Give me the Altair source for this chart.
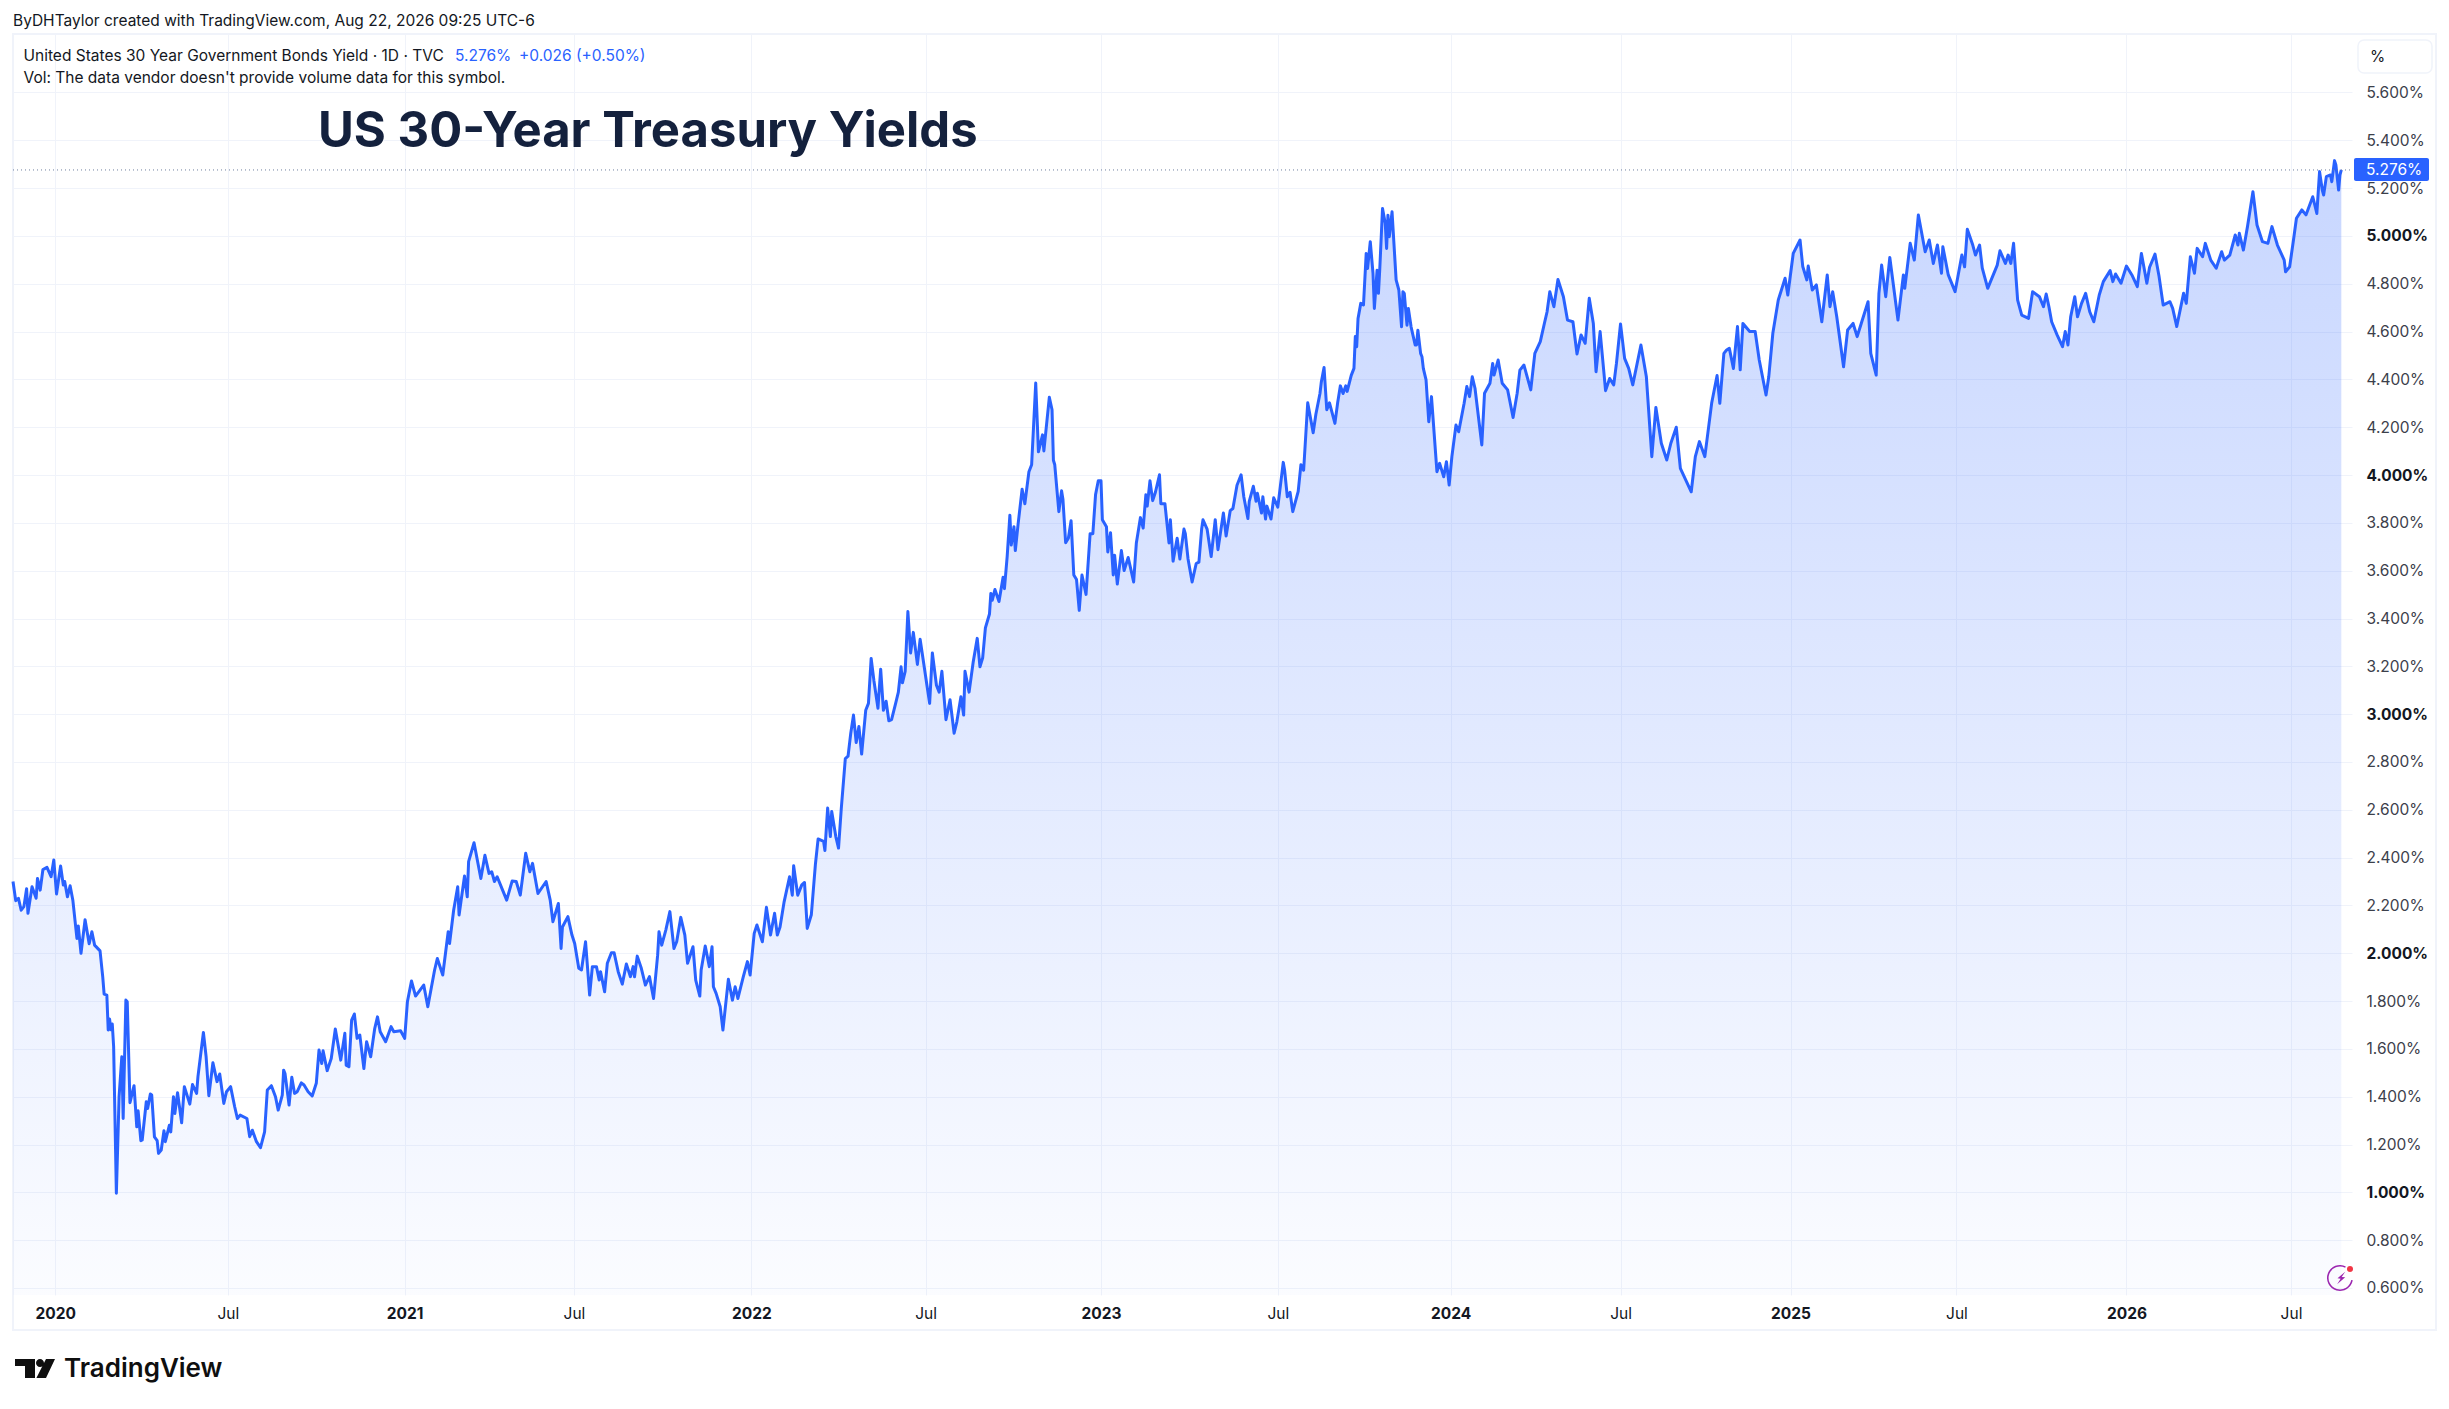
import altair as alt
import pandas as pd

# Trading-session number (bar index, as TradingView spaces its time axis) and yield in %
sessions = [
0,2,4,6,8,10,11,14,17,18,20,22,25,28,30,32,35,37,38,40,
42,44,47,48,50,53,56,58,60,64,66,67,69,70,71,72,73,74,76,78,
80,81,83,84,86,89,91,92,94,95,98,99,101,102,104,106,107,109,111,112,
115,116,118,119,121,124,126,130,132,135,136,140,142,144,147,150,152,155,157,160,
163,165,167,172,174,176,179,182,185,187,190,193,195,198,199,200,203,205,207,209,
212,214,217,220,223,225,227,228,231,234,237,241,244,245,247,249,251,253,255,258,
260,263,266,268,270,274,278,280,285,288,290,293,296,302,305,310,312,316,320,321,
324,327,328,332,334,335,339,344,347,350,352,354,356,360,363,367,370,373,377,380,
382,386,392,395,397,401,403,404,408,411,413,416,418,421,424,426,429,431,432,435,
437,440,442,445,448,451,454,456,457,459,462,465,468,471,474,475,477,480,483,486,
488,491,494,496,500,502,505,506,509,512,514,515,517,520,522,526,529,531,533,537,
540,542,545,547,551,554,557,560,562,564,567,571,573,574,577,
580,582,584,587,590,592,596,597,599,601,602,605,607,609,612,614,616,618,620,622,
624,627,629,631,633,636,638,640,642,644,646,649,651,653,654,656,658,660,662,665,
667,670,672,674,676,679,681,683,686,689,692,694,697,699,700,703,706,709,711,713,
715,718,719,720,722,725,728,729,731,733,734,736,737,739,742,744,747,749,752,754,
757,758,762,764,765,766,769,771,772,774,776,778,780,782,784,786,789,792,794,796,
798,800,801,804,805,807,809,810,812,815,817,820,824,826,829,831,833,834,836,838,
840,843,844,847,850,851,853,856,858,861,862,864,867,870,872,874,875,878,881,884,
886,890,892,895,897,900,903,905,908,909,912,914,915,918,919,921,922,925,927,930,
934,935,937,939,941,945,947,949,952,956,958,961,962,964,966,968,972,974,976,978,
980,981,984,986,987,988,989,991,993,995,996,998,1000,1001,1003,1004,1005,1007,1009,1010,
1011,1012,1014,1017,1019,1021,1022,1023,1025,1026,1028,1031,1032,1033,1035,1036,1037,1039,1041,1043,
1047,1049,1052,1054,1056,1058,1061,1063,1067,1069,1071,1073,1075,1080,1082,1086,1088,1089,1092,1095,
1099,1103,1106,1108,1111,1116,1119,1123,1126,1128,1130,1133,1136,1140,1143,1147,1150,1153,1156,1159,
1162,1164,1167,1171,1174,1177,1179,1182,1185,1188,1191,1197,1201,1205,1208,1212,1216,1219,1223,1226,
1230,1234,1237,1240,1244,1249,1253,1255,1258,1260,1262,1265,1268,1270,1272,1277,1281,1284,1289,1291,
1294,1298,1303,1305,1309,1314,1316,1319,1320,1323,1326,1330,1334,1336,1338,1341,1345,1346,1349,1353,
1356,1359,1364,1366,1370,1372,1374,1377,1380,1386,1390,1391,1395,1398,1401,1406,1409,1412,1415,1418,
1419,1423,1428,1433,1435,1437,1441,1443,1446,1448,1452,1459,1461,1465,1467,1469,1471,1474,1477,1482,
1485,1490,1493,1495,1497,1499,1503,1507,1509,1511,1513,1516,1518,1521,1524,1527,1530,1534,1537,1542,
1544,1546,1550,1554,1558,1562,1565,1569,1571,1575,1578,1581,1586,1588,1591,1596,1598,1601,1604,1606,
1610,1612,1616,1620,1624,1626,1630,1634,1636,1637,1640,1643,1647,1650,1654,1658,1661,1665,1670,1671,
1674,1677,1679,1683,1686,1691,1694,1696,1698,1699,1701,1704,1705,1707,1708,1710,1711,1712,
]
yields = [
2.30,2.22,2.23,2.18,2.195,2.27,2.167,2.278,2.23,2.313,2.264,2.35,2.359,2.32,2.39,2.248,2.365,2.285,2.30,2.236,
2.282,2.222,2.062,2.114,2.0,2.14,2.04,2.09,2.034,2.01,1.90,1.829,1.825,1.679,1.725,1.68,1.704,1.609,0.996,1.40,
1.567,1.309,1.804,1.797,1.375,1.446,1.274,1.341,1.216,1.219,1.379,1.351,1.411,1.407,1.232,1.216,1.163,1.177,1.258,1.212,
1.281,1.253,1.40,1.33,1.417,1.291,1.442,1.369,1.451,1.414,1.484,1.669,1.567,1.404,1.542,1.463,1.495,1.372,1.421,1.442,
1.358,1.309,1.323,1.309,1.233,1.26,1.212,1.187,1.253,1.428,1.446,1.40,1.344,1.407,1.511,1.497,1.365,1.481,1.414,1.421,
1.458,1.449,1.421,1.403,1.456,1.595,1.539,1.592,1.509,1.56,1.683,1.553,1.665,1.532,1.525,1.72,1.746,1.644,1.658,1.518,
1.63,1.567,1.686,1.734,1.672,1.63,1.693,1.672,1.676,1.644,1.797,1.884,1.821,1.867,1.776,1.93,1.978,1.909,2.09,2.041,
2.18,2.278,2.16,2.323,2.236,2.383,2.462,2.313,2.41,2.334,2.341,2.30,2.32,2.264,2.222,2.302,2.30,2.243,2.418,2.341,
2.376,2.25,2.30,2.222,2.132,2.208,2.02,2.11,2.153,2.076,2.041,1.937,1.93,2.048,1.825,1.944,1.944,1.888,1.923,1.839,
1.958,2.002,2.002,1.923,1.871,1.955,1.902,1.944,1.902,1.988,1.937,1.867,1.902,1.811,1.992,2.09,2.034,2.097,2.174,2.02,
2.048,2.15,2.076,1.958,2.027,1.888,1.821,1.93,2.03,1.944,2.027,1.86,1.832,1.776,1.679,1.891,1.804,1.86,1.811,1.902,
1.965,1.909,2.083,2.118,2.048,2.192,2.076,2.167,2.076,2.11,2.215,2.32,2.243,2.366,2.243,
2.286,2.296,2.104,2.161,2.372,2.478,2.468,2.43,2.607,2.488,2.593,2.488,2.44,2.603,2.814,2.824,2.92,2.996,2.881,2.948,
2.833,3.016,3.045,3.233,3.141,3.025,3.188,3.016,3.054,2.972,2.977,3.045,3.092,3.198,3.131,3.179,3.429,3.256,3.342,3.208,
3.313,3.198,3.121,3.045,3.256,3.121,3.092,3.179,2.977,3.06,2.92,2.968,3.073,2.996,3.179,3.092,3.217,3.317,3.198,3.236,
3.361,3.419,3.505,3.476,3.521,3.471,3.573,3.525,3.659,3.832,3.707,3.784,3.684,3.793,3.941,3.88,4.014,4.043,4.385,4.097,
4.168,4.101,4.325,4.273,4.062,4.043,3.847,3.934,3.899,3.717,3.736,3.809,3.582,3.563,3.434,3.582,3.501,3.755,3.755,3.918,
3.976,3.976,3.813,3.784,3.678,3.759,3.582,3.665,3.544,3.684,3.601,3.655,3.553,3.716,3.822,3.778,3.918,3.87,3.976,3.893,
3.928,4.001,3.88,3.88,3.716,3.813,3.64,3.736,3.649,3.774,3.755,3.649,3.553,3.63,3.636,3.774,3.813,3.774,3.659,3.813,
3.688,3.841,3.745,3.851,3.86,3.957,4.001,3.909,3.818,3.89,3.953,3.89,3.924,3.841,3.909,3.816,3.87,3.816,3.905,3.866,
4.053,4.02,3.909,3.928,3.847,3.932,4.043,4.02,4.302,4.177,4.254,4.341,4.389,4.45,4.273,4.302,4.216,4.302,4.373,4.341,
4.373,4.35,4.417,4.446,4.579,4.537,4.655,4.718,4.711,4.927,4.864,4.976,4.843,4.697,4.857,4.76,4.864,5.115,5.053,4.948,
5.087,4.997,5.101,4.816,4.774,4.62,4.767,4.76,4.627,4.697,4.62,4.544,4.544,4.606,4.509,4.495,4.446,4.398,4.223,4.328,
4.014,4.049,3.993,4.056,3.958,4.077,4.209,4.181,4.30,4.37,4.328,4.411,4.363,4.126,4.342,4.384,4.467,4.418,4.481,4.384,
4.356,4.241,4.342,4.439,4.46,4.356,4.509,4.558,4.634,4.683,4.767,4.704,4.818,4.746,4.648,4.641,4.506,4.586,4.551,4.739,
4.634,4.432,4.60,4.353,4.404,4.377,4.467,4.632,4.488,4.446,4.377,4.544,4.411,4.077,4.283,4.133,4.063,4.133,4.20,4.028,
3.979,3.93,4.077,4.14,4.077,4.30,4.416,4.30,4.509,4.523,4.53,4.446,4.621,4.44,4.634,4.60,4.60,4.481,4.335,4.411,
4.593,4.732,4.823,4.753,4.927,4.983,4.872,4.816,4.874,4.774,4.795,4.641,4.837,4.704,4.767,4.662,4.495,4.453,4.607,4.634,
4.579,4.634,4.725,4.509,4.418,4.76,4.878,4.746,4.91,4.648,4.837,4.781,4.969,4.899,5.088,4.934,4.983,4.885,4.962,4.844,
4.955,4.837,4.767,4.92,4.871,5.028,4.962,4.92,4.962,4.865,4.781,4.878,4.938,4.885,4.92,4.885,4.969,4.732,4.669,4.655,
4.767,4.746,4.704,4.757,4.704,4.641,4.586,4.537,4.60,4.544,4.662,4.746,4.662,4.718,4.76,4.683,4.641,4.753,4.809,4.855,
4.809,4.841,4.802,4.874,4.837,4.788,4.927,4.802,4.869,4.924,4.83,4.711,4.725,4.697,4.621,4.76,4.718,4.913,4.844,4.948,
4.913,4.969,4.899,4.865,4.934,4.899,4.92,5.004,4.962,5.011,4.941,5.039,5.185,5.046,4.976,4.969,5.039,4.962,4.899,4.85,
4.871,4.99,5.074,5.109,5.088,5.164,5.094,5.269,5.192,5.171,5.248,5.255,5.227,5.315,5.297,5.192,5.255,5.276,
]

tick_sessions = [31,158,288,412.5,543,671,800,930,1057,1182,1307,1429,1554,1675]
tick_labels = ["2020","Jul","2021","Jul","2022","Jul","2023","Jul","2024","Jul","2025","Jul","2026","Jul"]
price_ticks = [0.6,0.8,1.0,1.2,1.4,1.6,1.8,2.0,2.2,2.4,2.6,2.8,3.0,3.2,3.4,3.6,3.8,4.0,4.2,4.4,4.6,4.8,5.0,5.2,5.4,5.6]
last_price = [5.276]
last_label = "5.276%"
area_floor = 0.5707

FONT = "Inter"
INK = "#131722"
BLUE = "#2962ff"
GRID = "#f0f3fa"

WIDTH, HEIGHT = 2339, 1261
OX, OY = 13, 34   # page position of the plot area

df = pd.DataFrame({"session": sessions, "pct": yields})
df["floor"] = area_floor
one = pd.DataFrame({"a": [0]})

x_scale = alt.Scale(domain=[0, 1719.85], range=[0, WIDTH], nice=False, zero=False)
y_scale = alt.Scale(domain=[area_floor, 5.8446], range=[HEIGHT, 0], nice=False, zero=False)

ticks_js = str(tick_sessions)
labels_js = str(tick_labels)
year_ticks = [s for s, l in zip(tick_sessions, tick_labels) if l != "Jul"]

x_axis = alt.Axis(
    values=tick_sessions, title=None, grid=True, gridColor=GRID, gridWidth=1,
    domain=False, ticks=False, labelFont=FONT, labelFontSize=15.5, labelColor=INK,
    labelPadding=11, labelFlush=False, labelOverlap=False,
    labelExpr=f"{labels_js}[indexof({ticks_js},datum.value)]",
    labelFontWeight={"condition": {"test": f"indexof({year_ticks},datum.value)>=0", "value": 700}, "value": 400},
)
y_axis = alt.Axis(
    values=price_ticks, orient="right", title=None, grid=True, gridColor=GRID, gridWidth=1,
    domain=False, ticks=False, labelFont=FONT, labelFontSize=15.5, labelPadding=14,
    labelOverlap=False, labelFlush=False,
    labelExpr="format(datum.value,'.3f')+'%'",
    labelColor={"condition": {"test": "abs(datum.value-round(datum.value))<0.001", "value": INK}, "value": "#3c404b"},
    labelFontWeight={"condition": {"test": "abs(datum.value-round(datum.value))<0.001", "value": 700}, "value": 400},
)

X = alt.X("session:Q", scale=x_scale, axis=x_axis)
Y = alt.Y("pct:Q", scale=y_scale, axis=y_axis)


def text(s, px, py, size=15.5, color=INK, weight=400, align="left", font=FONT):
    return alt.Chart(one).mark_text(
        text=s, font=font, fontSize=size, color=color, fontWeight=weight,
        align=align, baseline="middle",
    ).encode(x=alt.value(px - OX), y=alt.value(py - OY))


def box(x0, y0, x1, y1, fill=None, stroke=None, radius=0, sw=1):
    kw = {"cornerRadius": radius, "strokeWidth": sw}
    kw["fill"] = fill if fill else "transparent"
    if stroke:
        kw["stroke"] = stroke
    return alt.Chart(one).mark_rect(**kw).encode(
        x=alt.value(x0 - OX), x2=alt.value(x1 - OX),
        y=alt.value(y0 - OY), y2=alt.value(y1 - OY),
    )


def glyph(path, px, py, span, color):
    return alt.Chart(one).mark_point(
        shape=path, size=span * span, filled=True, color=color, opacity=1, strokeWidth=0,
    ).encode(x=alt.value(px - OX), y=alt.value(py - OY))


gradient = alt.Gradient(
    gradient="linear", x1=0, x2=0, y1=0, y2=1,
    stops=[
        alt.GradientStop(color="rgba(41,98,255,0.26)", offset=0),
        alt.GradientStop(color="rgba(41,98,255,0.02)", offset=1),
    ],
)

area = alt.Chart(df).mark_area(color=gradient, opacity=1).encode(x=X, y=Y, y2=alt.Y2("floor:Q"))
line = alt.Chart(df).mark_line(color=BLUE, strokeWidth=3, strokeJoin="round").encode(x=X, y=Y)

price_line = alt.Chart(pd.DataFrame({"pct": last_price})).mark_rule(
    color="#6f7f9f", strokeWidth=1, strokeDash=[1, 3]
).encode(y=Y, x=alt.value(0), x2=alt.value(WIDTH))

frame = box(13, 34, 2436, 1330, stroke=GRID, sw=2)

logo_mark = glyph(
    "M-1 -0.475 H0 V0.475 H-0.5 V-0.125 H-1 Z "
    "M0.05 -0.275 A0.2 0.2 0 1 1 0.45 -0.275 A0.2 0.2 0 1 1 0.05 -0.275 Z "
    "M0.55 -0.475 H1 L0.55 0.475 H0.07 Z",
    35, 1368.5, 40, "#0f0f0f",
)
bolt = glyph("M0.6 -0.9 L-0.5 0.05 L-0.05 0.1 L-0.55 0.9 L0.6 -0.1 L0.1 -0.15 Z", 2341, 1278, 14, "#9c27b0")
ring = alt.Chart(one).mark_arc(
    radius=13, radius2=11.4, theta=1.75, theta2=6.75, color="#9c27b0"
).encode(x=alt.value(2340 - OX), y=alt.value(1278 - OY))
red_dot = alt.Chart(one).mark_circle(color="#f23645", size=36, opacity=1).encode(
    x=alt.value(2350 - OX), y=alt.value(1269 - OY)
)

chart = alt.layer(
    frame, area, line, price_line,
    text("ByDHTaylor created with TradingView.com, Aug 22, 2026 09:25 UTC-6", 13, 21),
    text("United States 30 Year Government Bonds Yield · 1D · TVC", 23.5, 56),
    text("5.276%", 455, 56, color=BLUE),
    text("+0.026 (+0.50%)", 519, 56, color=BLUE),
    text("Vol: The data vendor doesn't provide volume data for this symbol.", 23.5, 78),
    text("US 30-Year Treasury Yields", 318, 132, size=49, color="#14213d", weight=700),
    box(2358, 40, 2432, 73, fill="#ffffff", stroke=GRID, radius=6, sw=1.5),
    text("%", 2370, 57),
    box(2354, 158, 2429, 181, fill=BLUE, radius=2),
    text(last_label, 2366, 170, color="#ffffff"),
    ring, bolt, red_dot,
    logo_mark,
    text("TradingView", 64, 1369, size=26, color="#0f0f0f", weight=600),
).resolve_scale(x="shared", y="shared").properties(
    width=WIDTH, height=HEIGHT,
    padding={"left": 5, "top": 26, "right": 89, "bottom": 96},
    autosize=alt.AutoSizeParams(type="none"),
    background="#ffffff",
).configure_view(stroke=None)

chart.save("out.html", embed_options={"renderer": "svg", "actions": False})
